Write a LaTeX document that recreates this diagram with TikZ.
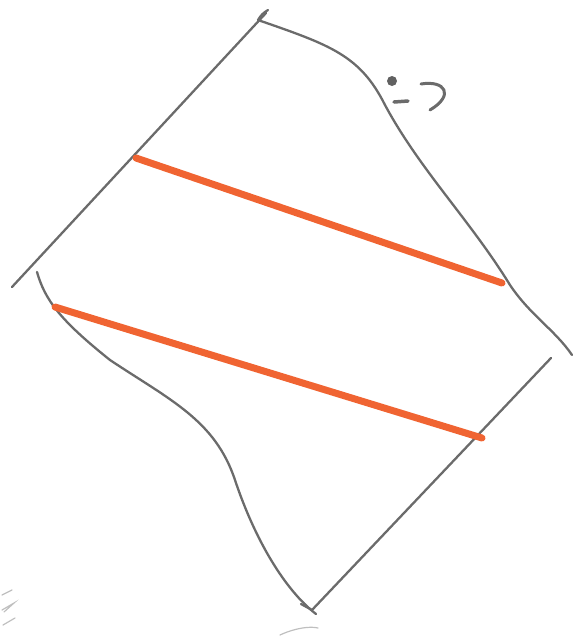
\documentclass[tikz,border=0pt]{standalone}
\begin{document}
\begin{tikzpicture}[x=1pt,y=-1pt,
  pencil/.style={draw=black!58,line width=2.3pt,line cap=round,line join=round},
  faint/.style={draw=black!25,line width=1.2pt,line cap=round},
  marker/.style={draw={rgb,255:red,240;green,100;blue,50},line width=7pt,line cap=round}]
\useasboundingbox (0,0) rectangle (580,641);
% upper-left straight edge
\draw[pencil] (266,13) -- (12,287);
% top tick
\draw[pencil] (258,20) .. controls (262,14) .. (268,10);
% top-right curvy edge
\draw[pencil] (258,20) .. controls (330,45) and (360,55) .. (385,105)
  .. controls (420,170) and (470,220) .. (510,285)
  .. controls (530,315) and (555,330) .. (572,355);
% bottom-right straight edge
\draw[pencil] (551,358) -- (312,610) -- (301,604);
% bottom-left curvy edge
\draw[pencil] (37,272) .. controls (45,300) and (60,320) .. (110,360)
  .. controls (170,400) and (215,420) .. (235,480)
  .. controls (255,540) and (285,590) .. (316,614);
% orange strokes
\draw[marker] (136,158) -- (502,283);
\draw[marker] (55,307) -- (482,438);
% smiley mark
\fill[black!62] (392,81) circle (5pt);
\draw[pencil,line width=3.5pt] (394,102) -- (408,101);
\draw[pencil,line width=3pt] (421,84) .. controls (445,80) and (455,95) .. (430,110);
% faint marks
\draw[faint] (2,595) -- (12,590);
\draw[faint] (2,610) -- (14,603) -- (4,612);
\draw[faint] (3,625) -- (15,618);
\draw[faint] (280,635) .. controls (295,628) and (310,626) .. (318,628);
\end{tikzpicture}
\end{document}
